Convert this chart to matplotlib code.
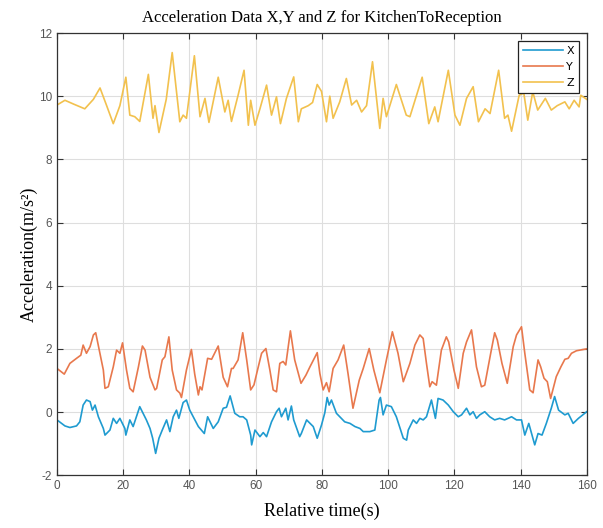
import matplotlib
matplotlib.use("Agg")
import matplotlib.pyplot as plt

plt.rcParams['axes.unicode_minus'] = False

# Accelerometer samples, walking from the kitchen to reception
x_time = [0, 2.4, 3.9, 5.9, 6.9, 7.9, 8.9, 10, 10.7, 11.5, 12.5, 14, 14.5, 16, 17, 18, 19, 20.5, 20.8, 22,
          23, 25, 26, 27, 28.1, 28.9, 29.8, 30.8, 31.8, 33.1, 34.1, 35.1, 36.1, 36.8, 38.1, 39.1, 40.1, 42.7,
          44.5, 45.5, 47.2, 48.7, 50.2, 51.2, 52.3, 53.7, 55.2, 56.2, 57.3, 58.5, 58.8, 59.8, 61.3, 62.3, 63.3,
          64.8, 66.3, 67.1, 67.8, 69.1, 69.8, 70.8, 71.5, 73.3, 73.8, 75.4, 77.4, 78.6, 79.9, 80.9, 81.6, 82.2,
          82.9, 84.4, 85.4, 86.9, 88.5, 90.0, 91.5, 92.5, 94.5, 96, 97.3, 97.7, 98.5, 99.5, 101, 102.5, 104.6,
          105.6, 106.1, 107.6, 108.6, 109.6, 110.6, 111.6, 113.1, 114.3, 115.1, 116.6, 118.2, 119.7, 121.2,
          122.2, 123.7, 124.7, 125.7, 126.7, 127.7, 129.2, 130.7, 132.2, 133.7, 135.2, 137.3, 138.8, 140.3,
          141.3, 142.5, 144.3, 145.3, 146.5, 147.8, 149.3, 150.3, 151.5, 153.4, 154.4, 155.9, 157.5, 160]
x_acc = [-0.25, -0.44, -0.49, -0.44, -0.31, 0.22, 0.38, 0.33, 0.06, 0.22, -0.15, -0.52, -0.73, -0.57, -0.2,
         -0.36, -0.2, -0.52, -0.73, -0.25, -0.46, 0.17, -0.04, -0.25, -0.52, -0.83, -1.31, -0.83, -0.57, -0.25,
         -0.62, -0.15, 0.06, -0.2, 0.3, 0.38, 0.06, -0.46, -0.68, -0.15, -0.52, -0.31, 0.12, 0.15, 0.51, -0.04,
         -0.15, -0.15, -0.25, -0.73, -1.04, -0.57, -0.78, -0.65, -0.78, -0.31, 0.01, 0.12, -0.15, 0.12, -0.25,
         0.19, -0.25, -0.78, -0.68, -0.25, -0.46, -0.83, -0.41, -0.02, 0.46, 0.22, 0.38, -0.04, -0.15, -0.31,
         -0.36, -0.46, -0.52, -0.62, -0.62, -0.57, 0.38, 0.46, -0.09, 0.22, 0.17, -0.15, -0.83, -0.89, -0.57,
         -0.25, -0.36, -0.2, -0.25, -0.15, 0.38, -0.2, 0.43, 0.38, 0.22, 0.01, -0.15, -0.09, 0.12, -0.09, 0.01,
         -0.2, -0.09, 0.01, -0.15, -0.25, -0.2, -0.25, -0.15, -0.25, -0.25, -0.73, -0.36, -1.04, -0.68, -0.73,
         -0.36, 0.12, 0.49, 0.06, -0.09, -0.04, -0.36, -0.2, 0.01]

y_time = [0, 2.2, 3.9, 5.9, 7.2, 7.9, 8.9, 10, 11, 11.7, 14, 14.5, 15.5, 17, 18, 19, 19.8, 21, 22, 23,
          24.6, 25.8, 26.6, 28.1, 29.6, 30.1, 31.8, 32.6, 33.8, 34.8, 36.1, 37.1, 37.6, 39.1, 40.6, 41.6,
          42.7, 43.2, 43.8, 45.5, 46.7, 48.7, 50.2, 51.5, 52.7, 53.2, 54.7, 56.1, 57.3, 58.5, 59.5, 60.8,
          61.8, 63.1, 64.3, 65.3, 66.3, 67.3, 68.3, 69.1, 70.5, 71.8, 73.7, 75.2, 76.4, 78.6, 79.4, 80.4,
          81.4, 82.2, 83.4, 84.9, 86.6, 87.9, 89.4, 91.3, 92.5, 94.3, 95.7, 97.5, 99.5, 101.3, 103, 104.6,
          106.6, 108.1, 109.6, 110.6, 111.6, 112.6, 113.3, 114.6, 116.1, 117.6, 118.3, 119.9, 121.2, 122.7,
          123.7, 125.2, 126.7, 128.2, 129.2, 131.0, 132.2, 133.0, 134.4, 136.0, 137.8, 138.8, 140.3, 141.3,
          142.8, 143.8, 145.3, 146.1, 147.1, 148.1, 149.1, 150.8, 152.2, 153.4, 154.4, 155.4, 156.9, 160]
y_acc = [1.38, 1.2, 1.54, 1.7, 1.8, 2.12, 1.86, 2.07, 2.44, 2.51, 1.33, 0.75, 0.8, 1.43, 1.96, 1.86, 2.19,
         1.33, 0.75, 0.64, 1.43, 2.09, 1.96, 1.1, 0.7, 0.75, 1.65, 1.75, 2.38, 1.33, 0.7, 0.6, 0.46, 1.33,
         1.98, 1.2, 0.54, 0.8, 0.7, 1.7, 1.67, 2.09, 1.1, 0.8, 1.38, 1.38, 1.65, 2.51, 1.65, 0.7, 0.86, 1.43,
         1.86, 2.01, 1.33, 0.7, 0.64, 1.54, 1.6, 1.49, 2.57, 1.65, 0.91, 1.17, 1.43, 1.88, 1.22, 0.7, 0.93,
         0.64, 1.38, 1.65, 2.12, 1.22, 0.12, 1.01, 1.38, 2.01, 1.33, 0.61, 1.65, 2.54, 1.86, 0.96, 1.54, 2.12,
         2.44, 2.33, 1.54, 0.8, 0.96, 0.85, 1.96, 2.38, 2.22, 1.33, 0.75, 1.86, 2.22, 2.6, 1.43, 0.8, 0.85,
         1.86, 2.51, 2.28, 1.54, 0.91, 2.07, 2.44, 2.7, 1.86, 0.7, 0.61, 1.65, 1.43, 1.07, 0.96, 0.43, 1.12,
         1.43, 1.67, 1.7, 1.86, 1.94, 2.0]

z_time = [0, 2.4, 5, 8.4, 11, 13, 15, 17, 19, 20.8, 22, 23.5, 25, 27.6, 29, 29.6, 30.8, 33, 34.8, 37.1,
          38.1, 39.1, 41.5, 43.2, 44.7, 45.9, 48.7, 50.7, 51.7, 52.7, 54.7, 56.5, 57.8, 58.5, 59.8, 61.3,
          63.3, 64.8, 66.3, 67.5, 69.3, 71.5, 72.9, 73.8, 75.9, 77.2, 78.6, 79.9, 81.4, 82.4, 83.4, 85.4,
          87.4, 89.0, 90.5, 92.0, 93.5, 95.3, 97.5, 98.5, 99.5, 102.5, 105.5, 106.6, 110.3, 112.3, 114.1,
          115.1, 118.2, 120.2, 121.7, 123.7, 125.7, 127.3, 129.3, 130.8, 133.4, 135.2, 136.2, 137.3, 139.6,
          141.0, 142.2, 143.7, 145.2, 147.5, 149.3, 151.1, 153.4, 154.7, 156.2, 157.7, 158.2, 160]
z_acc = [9.72, 9.87, 9.75, 9.6, 9.9, 10.26, 9.7, 9.13, 9.7, 10.6, 9.4, 9.35, 9.2, 10.69, 9.3, 9.7, 8.85,
         9.9, 11.38, 9.19, 9.4, 9.3, 11.28, 9.35, 9.93, 9.17, 10.6, 9.5, 9.87, 9.2, 10.03, 10.82, 9.08, 9.87,
         9.08, 9.6, 10.35, 9.4, 9.98, 9.13, 9.93, 10.61, 9.19, 9.6, 9.7, 9.8, 10.37, 10.15, 9.19, 10.0, 9.3,
         9.82, 10.56, 9.72, 9.87, 9.5, 9.7, 11.09, 8.98, 9.93, 9.35, 10.37, 9.4, 9.35, 10.6, 9.13, 9.66, 9.19,
         10.82, 9.4, 9.08, 9.93, 10.3, 9.19, 9.6, 9.45, 10.82, 9.3, 9.4, 8.89, 10.03, 10.1, 9.24, 10.14, 9.56,
         9.93, 9.56, 9.7, 9.82, 9.6, 9.87, 9.66, 10.03, 9.9]

x_ticks = list(range(0, 161, 20))
y_ticks = list(range(-2, 13, 2))

fig = plt.figure(figsize=(6.03, 5.28), dpi=100)
ax = fig.add_axes([0.0945, 0.100, 0.8785, 0.8375])

ax.plot(x_time, x_acc, color='#1f9bd0', lw=1.2, label='X')
ax.plot(y_time, y_acc, color='#e8784d', lw=1.2, label='Y')
ax.plot(z_time, z_acc, color='#f2c14e', lw=1.2, label='Z')

ax.set_xlim(0, 160)
ax.set_ylim(-2, 12)
ax.set_xticks(x_ticks)
ax.set_yticks(y_ticks)
ax.tick_params(direction='in', top=True, right=True, length=4, width=0.8,
               labelsize=8.5, labelcolor='#555555', color='#333333')
for lab in ax.get_xticklabels() + ax.get_yticklabels():
    lab.set_family('Liberation Sans')
ax.grid(True, color='#dedede', lw=0.8)
ax.set_axisbelow(True)
for sp in ax.spines.values():
    sp.set_color('#333333')
    sp.set_linewidth(0.9)

ax.set_title('Acceleration Data X,Y and Z for KitchenToReception',
             family='Liberation Serif', fontsize=12, pad=8)
ax.set_xlabel('Relative time(s)', family='Liberation Serif', fontsize=13, labelpad=8)
ax.set_ylabel('Acceleration(m/s²)', family='Liberation Serif', fontsize=13, labelpad=1)

leg = ax.legend(loc='upper right', fontsize=8, handlelength=3.6, fancybox=False,
                framealpha=1, edgecolor='#222222', borderaxespad=0.7,
                labelspacing=0.55, handletextpad=0.3, borderpad=0.45)
leg.get_frame().set_linewidth(0.9)

fig.savefig('out.png', dpi=100)
